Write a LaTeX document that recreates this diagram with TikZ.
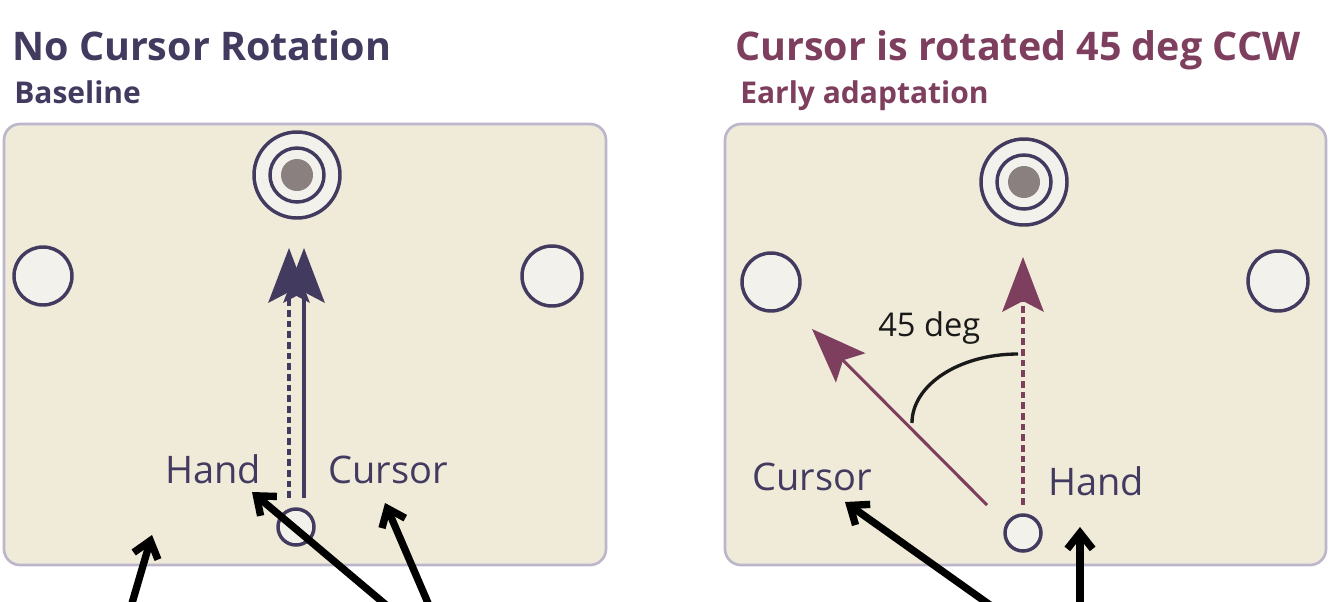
\documentclass[tikz,border=0pt]{standalone}
\usepackage{fontspec}
\setmainfont{Open Sans}
\usetikzlibrary{arrows.meta}
\definecolor{inkblue}{HTML}{433A60}
\definecolor{plum}{HTML}{7E3F5E}
\definecolor{deskfill}{HTML}{F0EBD9}
\definecolor{deskline}{HTML}{BCB6CB}
\definecolor{spotfill}{HTML}{F3F1EB}
\definecolor{goalgray}{HTML}{8B8080}
\newdimen\px \px=0.75pt
\tikzset{
  desk/.style={draw=deskline,line width=2pt,fill=deskfill,rounded corners=16\px},
  spot/.style={circle,draw=inkblue,line width=2.6pt,fill=spotfill,inner sep=0pt,minimum size=#1},
  goaldot/.style={circle,fill=goalgray,inner sep=0pt,minimum size=32\px},
  headline/.style={anchor=base west,inner sep=0pt,font=\fontsize{29.6}{33}\selectfont\bfseries},
  subline/.style={anchor=base west,inner sep=0pt,font=\fontsize{22.5}{25}\selectfont\bfseries},
  tag/.style={anchor=base west,inner sep=0pt,text=inkblue,font=\fontsize{28.5}{31}\selectfont},
  reach/.style={line width=2.7pt,-{Stealth[length=41pt,width=31pt,inset=8pt]}},
  pointer/.style={line width=5.5pt,-{Straight Barb[length=12pt,width=19pt]}}
}
\begin{document}
\begin{tikzpicture}[x=0.75pt,y=-0.75pt]
  \useasboundingbox (0,0) rectangle (1334,601);
  \clip (0,0) rectangle (1334,601);
  % --- baseline panel ---
  \node[headline,text=inkblue] (titleL) at (12,60) {No Cursor Rotation};
  \node[subline,text=inkblue] (subL) at (14,103) {Baseline};
  \draw[desk] (4,124) rectangle (606,565);
  \node[spot=58\px] (leftL) at (43,276) {};
  \node[spot=60\px] (rightL) at (552,276) {};
  \node[spot=86\px] (goalL) at (297,175) {};
  \node[spot=54\px] (ringL) at (297,175) {};
  \node[goaldot] (dotL) at (297,175) {};
  \node[spot=36\px] (startL) at (296,527) {};
  \coordinate (handL0) at (289,498);
  \coordinate (handL1) at (289,248);
  \coordinate (curL0) at (304,498);
  \coordinate (curL1) at (304,248);
  \draw[reach,inkblue,dash pattern=on 5pt off 3pt] (handL0) -- (handL1);
  \draw[reach,inkblue] (curL0) -- (curL1);
  \node[tag] (handL) at (165,483) {Hand};
  \node[tag] (cursorL) at (328,483) {Cursor};
  % --- rotated panel ---
  \node[headline,text=plum] (titleR) at (735,60) {Cursor is rotated 45 deg CCW};
  \node[subline,text=plum] (subR) at (740,103) {Early adaptation};
  \draw[desk] (725,124) rectangle (1326,565);
  \node[spot=58\px] (leftR) at (771,282) {};
  \node[spot=60\px] (rightR) at (1278,281) {};
  \node[spot=86\px] (goalR) at (1024,182) {};
  \node[spot=54\px] (ringR) at (1024,182) {};
  \node[goaldot] (dotR) at (1024,182) {};
  \node[spot=36\px] (startR) at (1023,533) {};
  \coordinate (handR0) at (1023,505);
  \coordinate (handR1) at (1023,257);
  \coordinate (curR0) at (987,505);
  \coordinate (curR1) at (812,329);
  \draw[reach,plum,dash pattern=on 5pt off 3pt] (handR0) -- (handR1);
  \draw[reach,plum,line width=2.3pt] (curR0) -- (curR1);
  \coordinate (arcA) at (1018,354);
  \coordinate (arcB) at (912,423);
  \draw[line width=2.5pt,black!90] (arcA) .. controls (959,354) and (912,385) .. (arcB);
  \node[anchor=base west,inner sep=0pt,font=\fontsize{24.5}{27}\selectfont,text=black!90] (angle) at (878,336) {45 deg};
  \node[tag] (cursorR) at (752,490) {Cursor};
  \node[tag] (handR) at (1048,495) {Hand};
  % --- pointers from below ---
  \coordinate (deskTip) at (152,535);
  \coordinate (handTipL) at (252,492);
  \coordinate (curTipL) at (385,503);
  \coordinate (curTipR) at (845,502);
  \coordinate (handTipR) at (1080,527);
  \coordinate (b1) at (130,610);
  \coordinate (b2) at (392,610);
  \coordinate (b3) at (431,610);
  \coordinate (b4) at (997,610);
  \coordinate (b5) at (1080,610);
  \draw[pointer] (b1) -- (deskTip);
  \draw[pointer] (b2) -- (handTipL);
  \draw[pointer] (b3) -- (curTipL);
  \draw[pointer] (b4) -- (curTipR);
  \draw[pointer] (b5) -- (handTipR);
\end{tikzpicture}
\end{document}
